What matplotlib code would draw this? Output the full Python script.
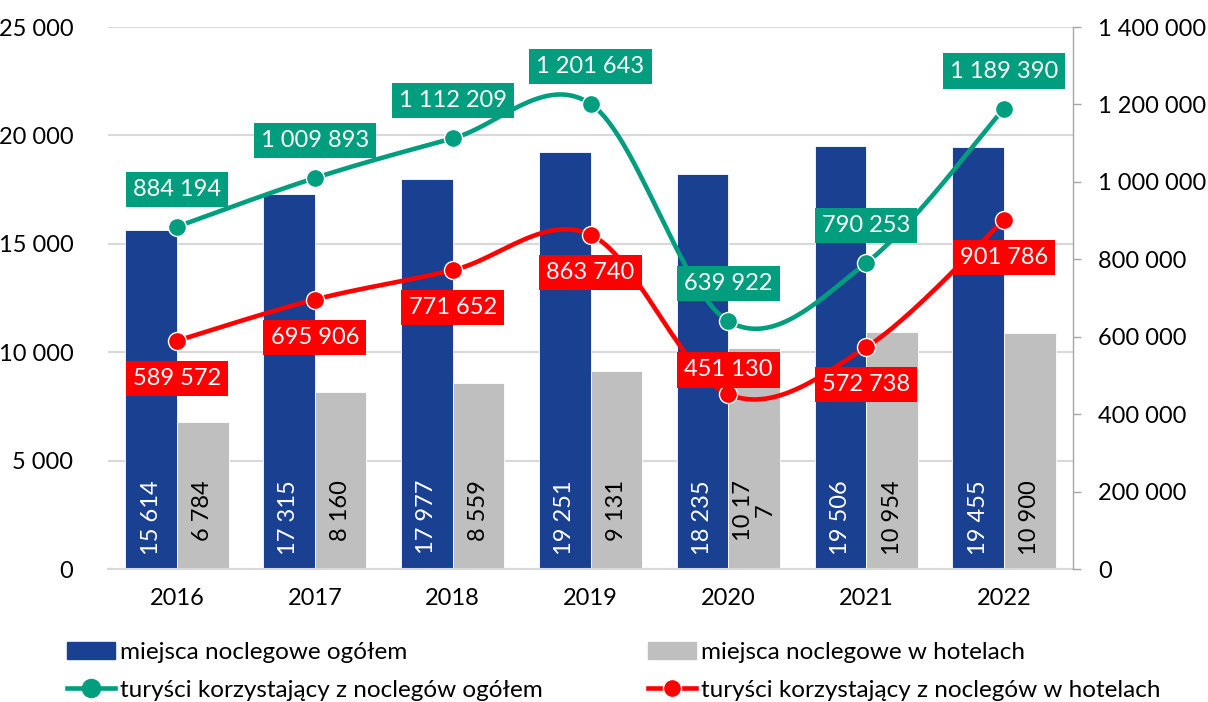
import numpy as np
import matplotlib
matplotlib.use('Agg')
import matplotlib.pyplot as plt
from matplotlib.lines import Line2D
from matplotlib.patches import Patch

plt.rcParams['font.family'] = ['Lato', 'DejaVu Sans']

# data
years = ['2016', '2017', '2018', '2019', '2020', '2021', '2022']
places_total = [15614, 17315, 17977, 19251, 18235, 19506, 19455]
places_hotels = [6784, 8160, 8559, 9131, 10177, 10954, 10900]
tourists_total = [884194, 1009893, 1112209, 1201643, 639922, 790253, 1189390]
tourists_hotels = [589572, 695906, 771652, 863740, 451130, 572738, 901786]
left_ticks = [0, 5000, 10000, 15000, 20000, 25000]
right_ticks = [0, 200000, 400000, 600000, 800000, 1000000, 1200000, 1400000]

# label placement per point: positive above, negative below
green_side = [1, 1, 1, 1, 1, 1, 1]
red_side = [-1, -1, -1, -1, 0.65, -1, -1]

BLUE = '#1A4191'
GRAY = '#BFBFBF'
GREEN = '#009E7E'
RED = '#FF0000'
FS = 17


def fmt(v):
    return f'{v:,}'.replace(',', ' ')


def smooth(xs, ys, n=30):
    # Excel-like smoothed line (Catmull-Rom / cubic Bezier)
    p = np.column_stack([xs, ys]).astype(float)
    ext = np.vstack([p[0], p, p[-1]])
    out = []
    for i in range(len(p) - 1):
        p0, p1, p2, p3 = ext[i], ext[i + 1], ext[i + 2], ext[i + 3]
        c1 = p1 + (p2 - p0) / 6
        c2 = p2 - (p3 - p1) / 6
        t = np.linspace(0, 1, n)[:, None]
        seg = ((1 - t) ** 3) * p1 + 3 * ((1 - t) ** 2) * t * c1 + 3 * (1 - t) * t ** 2 * c2 + t ** 3 * p2
        out.append(seg if i == 0 else seg[1:])
    out = np.vstack(out)
    return out[:, 0], out[:, 1]


fig = plt.figure(figsize=(12.08, 7.02), dpi=100)
ax = fig.add_axes([108 / 1208, 1 - 569 / 702, (1073 - 108) / 1208, (569 - 27) / 702])
ax2 = ax.twinx()

x = np.arange(len(years))
w = 0.375
ax.bar(x - w / 2, places_total, w, color=BLUE, edgecolor='white', linewidth=0.6, zorder=2)
ax.bar(x + w / 2, places_hotels, w, color=GRAY, edgecolor='white', linewidth=0.6, zorder=2)

for i in range(len(x)):
    ax.text(x[i] - w / 2, 4100, fmt(places_total[i]), rotation=90, ha='center', va='top',
            color='white', fontsize=FS, zorder=3)
    lbl = fmt(places_hotels[i])
    if places_hotels[i] == 10177:
        lbl = '10 17\n7'
    ax.text(x[i] + w / 2, 4100, lbl, rotation=90, ha='center', va='top',
            color='black', fontsize=FS, zorder=3, linespacing=1.05)

ax.set_xlim(-0.5, 6.5)
ax.set_ylim(0, 25000)
ax.set_yticks(left_ticks)
ax.set_yticklabels([fmt(v) for v in left_ticks], fontsize=FS)
ax.set_xticks(x)
ax.set_xticklabels(years, fontsize=FS)
ax.yaxis.grid(True, color='#D9D9D9', linewidth=1.5, zorder=0)
ax.set_axisbelow(True)
ax.tick_params(axis='y', length=0, pad=25)
ax.tick_params(axis='x', length=0, pad=14)
for s in ['top', 'left', 'right']:
    ax.spines[s].set_visible(False)
ax.spines['bottom'].set_color('#D9D9D9')
ax.spines['bottom'].set_linewidth(1.5)

ax2.set_ylim(0, 1400000)
ax2.set_yticks(right_ticks)
ax2.set_yticklabels([fmt(v) for v in right_ticks], fontsize=FS)
ax2.tick_params(axis='y', length=6, width=1, color='#A6A6A6', pad=12)
for s in ['top', 'left', 'bottom']:
    ax2.spines[s].set_visible(False)
ax2.spines['right'].set_color('#A6A6A6')
ax2.spines['right'].set_linewidth(1)

for vals, col, side in [(tourists_total, GREEN, green_side), (tourists_hotels, RED, red_side)]:
    sx, sy = smooth(x, vals)
    ax2.plot(sx, sy, color=col, linewidth=3.3, solid_capstyle='round', zorder=4)
    ax2.plot(x, vals, linestyle='none', marker='o', markersize=13, color=col,
             markeredgecolor='white', markeredgewidth=1, zorder=5)
    for i in range(len(x)):
        ax2.annotate(fmt(vals[i]), (x[i], vals[i]), xytext=(0, 27 * side[i]), textcoords='offset points',
                     ha='center', va='center', color='white', fontsize=FS, zorder=6,
                     bbox=dict(boxstyle='square,pad=0.3', fc=col, ec='none'))

handles = [Patch(color=BLUE), Line2D([], [], color=GREEN, lw=3.3, marker='o', markersize=13),
           Patch(color=GRAY), Line2D([], [], color=RED, lw=3.3, marker='o', markersize=13,
                                     markeredgecolor='white', markeredgewidth=1)]
labels = ['miejsca noclegowe ogółem', 'turyści korzystający z noclegów ogółem',
          'miejsca noclegowe w hotelach', 'turyści korzystający z noclegów w hotelach']
fig.legend(handles, labels, ncol=2, loc='upper left', bbox_to_anchor=(45 / 1208, 1 - 620 / 702),
           frameon=False, fontsize=17.5, handlelength=2.0, handleheight=0.7, handletextpad=0.2,
           columnspacing=4.3, labelspacing=0.7)

fig.savefig('out.png', dpi=100)
